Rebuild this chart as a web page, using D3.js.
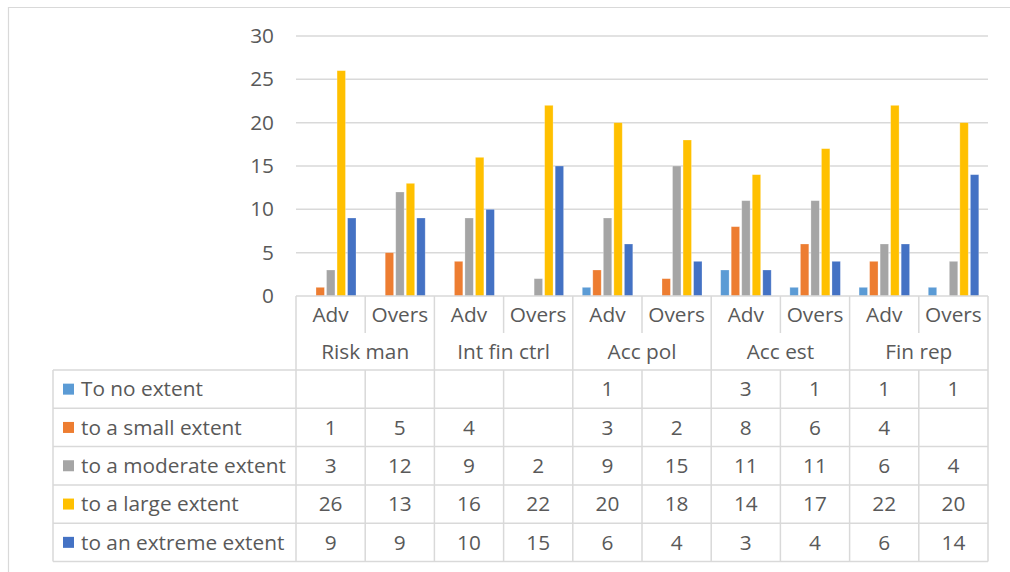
<!DOCTYPE html>
<html>
<head>
<meta charset="utf-8">
<script src="https://cdn.jsdelivr.net/npm/d3@7"></script>
<style>
  html, body { margin: 0; padding: 0; background: #fff; }
  svg text { font-family: "Open Sans", Lato, sans-serif; fill: #595959; }
</style>
</head>
<body>
<svg id="chart" width="1010" height="572"></svg>
<script>
// Groups and sub-categories along the x axis
const groups = ["Risk man", "Int fin ctrl", "Acc pol", "Acc est", "Fin rep"];
const subs = ["Adv", "Overs"];

// Series names and colours
const seriesNames = ["To no extent", "to a small extent", "to a moderate extent", "to a large extent", "to an extreme extent"];
const seriesColors = ["#5B9BD5", "#ED7D31", "#A5A5A5", "#FFC000", "#4472C4"];

// Values per series, one per (group, sub) column; null = blank cell
const noExtent       = [null, null, null, null, 1, null, 3, 1, 1, 1];
const smallExtent    = [1, 5, 4, null, 3, 2, 8, 6, 4, null];
const moderateExtent = [3, 12, 9, 2, 9, 15, 11, 11, 6, 4];
const largeExtent    = [26, 13, 16, 22, 20, 18, 14, 17, 22, 20];
const extremeExtent  = [9, 9, 10, 15, 6, 4, 3, 4, 6, 14];

const yTicks = [0, 5, 10, 15, 20, 25, 30];

const seriesValues = [noExtent, smallExtent, moderateExtent, largeExtent, extremeExtent];
const columns = [];
groups.forEach(g => subs.forEach(s => columns.push(g + "|" + s)));

const svg = d3.select("#chart");
const gridColor = "#d9d9d9";
const fontSize = 20.8;

// Layout
const plotLeft = 296, plotRight = 988, plotTop = 36, plotBottom = 296;
const subRowBottom = 333, groupRowBottom = 370;
const rowH = 38.3;
const legendLeft = 53;

const x = d3.scaleBand().domain(columns).range([plotLeft, plotRight]);
const bw = x.bandwidth();
const xInner = d3.scaleBand().domain(seriesNames)
  .range([bw * 0.137, bw * 0.867]).paddingInner(0.2).paddingOuter(0);
const y = d3.scaleLinear().domain([0, 30]).range([plotBottom, plotTop]);

// Outer chart frame (top and left edges)
svg.append("path")
  .attr("d", "M8.5,572 V7.5 H1010")
  .attr("fill", "none").attr("stroke", gridColor).attr("stroke-width", 1.2);

// Horizontal gridlines
svg.append("g").selectAll("line").data(yTicks.filter(t => t > 0)).join("line")
  .attr("x1", plotLeft).attr("x2", plotRight)
  .attr("y1", d => y(d)).attr("y2", d => y(d))
  .attr("stroke", gridColor).attr("stroke-width", 1.5);

// Y axis labels
const yAxis = d3.axisLeft(y).tickValues(yTicks).tickSize(0).tickPadding(22);
const yg = svg.append("g").attr("transform", `translate(${plotLeft},0)`).call(yAxis);
yg.select(".domain").remove();
yg.selectAll("text").attr("font-size", fontSize).attr("fill", "#595959")
  .style("font-family", "'Open Sans', Lato, sans-serif");

// Bars
const barData = [];
seriesValues.forEach((vals, si) => {
  vals.forEach((v, ci) => {
    if (v != null) barData.push({ s: seriesNames[si], c: columns[ci], v, color: seriesColors[si] });
  });
});
svg.append("g").selectAll("rect").data(barData).join("rect")
  .attr("x", d => x(d.c) + xInner(d.s))
  .attr("width", xInner.bandwidth())
  .attr("y", d => y(d.v))
  .attr("height", d => y(0) - y(d.v))
  .attr("fill", d => d.color)
  .attr("stroke", "#ffffff").attr("stroke-opacity", 0.35).attr("stroke-width", 0.75);

// Category axis: sub labels and group labels
const grid = svg.append("g").attr("stroke", gridColor).attr("stroke-width", 1.5);
// baseline / top of table
grid.append("line").attr("x1", plotLeft).attr("x2", plotRight).attr("y1", plotBottom).attr("y2", plotBottom);
// vertical lines in sub-label row and group row
columns.forEach((c, i) => {
  const xl = x(c);
  const isGroupEdge = i % subs.length === 0;
  grid.append("line").attr("x1", xl).attr("x2", xl)
    .attr("y1", plotBottom).attr("y2", isGroupEdge ? groupRowBottom : subRowBottom);
});
grid.append("line").attr("x1", plotRight).attr("x2", plotRight)
  .attr("y1", plotBottom).attr("y2", groupRowBottom);

svg.append("g").selectAll("text").data(columns).join("text")
  .attr("x", d => x(d) + bw / 2)
  .attr("y", (plotBottom + subRowBottom) / 2)
  .attr("dy", "0.35em").attr("text-anchor", "middle").attr("font-size", fontSize)
  .text(d => d.split("|")[1]);

svg.append("g").selectAll("text").data(groups).join("text")
  .attr("x", g => x(g + "|" + subs[0]) + bw * subs.length / 2)
  .attr("y", (subRowBottom + groupRowBottom) / 2)
  .attr("dy", "0.35em").attr("text-anchor", "middle").attr("font-size", fontSize)
  .text(g => g);

// Data table with legend keys
const rowY = i => groupRowBottom + i * rowH;
for (let i = 0; i <= seriesNames.length; i++) {
  grid.append("line").attr("x1", legendLeft).attr("x2", plotRight)
    .attr("y1", rowY(i)).attr("y2", rowY(i));
}
const tableBottom = rowY(seriesNames.length);
grid.append("line").attr("x1", legendLeft).attr("x2", legendLeft)
  .attr("y1", groupRowBottom).attr("y2", tableBottom);
columns.forEach(c => {
  grid.append("line").attr("x1", x(c)).attr("x2", x(c))
    .attr("y1", groupRowBottom).attr("y2", tableBottom);
});
grid.append("line").attr("x1", plotRight).attr("x2", plotRight)
  .attr("y1", groupRowBottom).attr("y2", tableBottom);

const rows = svg.append("g").selectAll("g").data(seriesNames).join("g")
  .attr("transform", (d, i) => `translate(0,${rowY(i) + rowH / 2})`);
rows.append("rect")
  .attr("x", 63).attr("y", -5.5).attr("width", 11).attr("height", 11)
  .attr("fill", (d, i) => seriesColors[i]);
rows.append("text")
  .attr("x", 81).attr("dy", "0.35em").attr("font-size", fontSize)
  .text(d => d);
rows.each(function(name, si) {
  d3.select(this).selectAll("text.val")
    .data(seriesValues[si].map((v, ci) => ({ v, c: columns[ci] })).filter(d => d.v != null))
    .join("text").attr("class", "val")
    .attr("x", d => x(d.c) + bw / 2).attr("dy", "0.35em")
    .attr("text-anchor", "middle").attr("font-size", fontSize)
    .text(d => d.v);
});
</script>
</body>
</html>
